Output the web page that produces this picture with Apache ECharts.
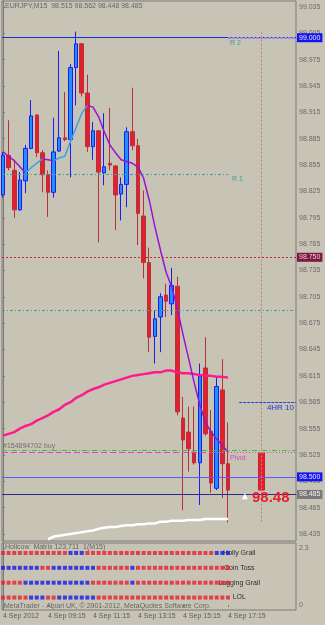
<!DOCTYPE html>
<html><head><meta charset="utf-8">
<script src="https://cdn.jsdelivr.net/npm/echarts@6/dist/echarts.min.js"></script>
<style>html,body{margin:0;padding:0;background:#c7c4b5;}#c{width:325px;height:625px;}</style>
</head><body><div id="c"></div>
<script>
// ---------- data ----------
const chartTitle = 'EURJPY,M15  98.515 98.562 98.448 98.485';
const subTitle = 'Hollcow  Matrix 123,711  1(M15)';
const copyright = 'MetaTrader - Alpari UK, \u00A9 2001-2012, MetaQuotes Software Corp.';
const timeLabels = ['4 Sep 2012', '4 Sep 09:15', '4 Sep 11:15', '4 Sep 13:15', '4 Sep 15:15', '4 Sep 17:15'];
const timeLabelIdx = [0, 8, 16, 24, 32, 40];
const priceTicks = [99.035, 99.005, 98.975, 98.945, 98.915, 98.885, 98.855, 98.825, 98.795, 98.765, 98.735, 98.705, 98.675, 98.645, 98.615, 98.585, 98.555, 98.525, 98.495, 98.465, 98.435];

const opens  = [98.821,98.866,98.849,98.804,98.837,98.874,98.912,98.869,98.844,98.824,98.871,98.886,98.884,98.966,98.993,98.937,98.876,98.894,98.846,98.857,98.854,98.822,98.833,98.893,98.877,98.797,98.744,98.660,98.682,98.707,98.697,98.717,98.567,98.551,98.528,98.516,98.624,98.552,98.487,98.599,98.515];
const closes = [98.866,98.852,98.804,98.838,98.874,98.911,98.869,98.844,98.824,98.870,98.886,98.884,98.966,98.993,98.937,98.876,98.894,98.847,98.853,98.855,98.821,98.833,98.893,98.877,98.800,98.744,98.659,98.680,98.705,98.700,98.718,98.574,98.542,98.532,98.516,98.615,98.549,98.493,98.603,98.515,98.485];
const lows   = [98.818,98.849,98.795,98.803,98.823,98.873,98.864,98.824,98.796,98.818,98.870,98.882,98.841,98.923,98.933,98.870,98.861,98.767,98.832,98.849,98.781,98.792,98.807,98.872,98.764,98.726,98.642,98.629,98.642,98.682,98.684,98.570,98.462,98.506,98.514,98.468,98.547,98.482,98.485,98.476,98.448];
const highs  = [98.870,98.906,98.861,98.847,98.878,98.929,98.913,98.872,98.849,98.909,98.985,98.938,98.970,99.007,98.994,98.958,98.904,98.895,98.914,98.920,98.855,98.841,98.898,98.943,98.885,98.826,98.761,98.689,98.709,98.720,98.738,98.728,98.591,98.580,98.580,98.629,98.659,98.576,98.614,98.634,98.562];

const maFast = [98.870,98.865,98.860,98.853,98.846,98.852,98.857,98.862,98.861,98.860,98.863,98.865,98.882,98.898,98.914,98.923,98.921,98.910,98.893,98.878,98.869,98.861,98.859,98.857,98.853,98.840,98.815,98.785,98.758,98.733,98.716,98.692,98.662,98.635,98.607,98.582,98.562,98.551,98.543,98.536,98.528];
const maSlow = [98.547,98.549,98.551,98.555,98.558,98.560,98.564,98.567,98.570,98.574,98.577,98.582,98.585,98.590,98.593,98.597,98.600,98.602,98.605,98.607,98.609,98.611,98.613,98.615,98.616,98.617,98.618,98.619,98.619,98.621,98.621,98.619,98.618,98.618,98.617,98.616,98.615,98.615,98.614,98.614,98.613];
const maLongStart = 8;
const maLong = [98.429,98.432,98.433,98.434,98.435,98.436,98.437,98.438,98.439,98.441,98.442,98.443,98.443,98.444,98.445,98.445,98.446,98.446,98.447,98.447,98.449,98.449,98.450,98.450,98.450,98.451,98.451,98.451,98.452,98.452,98.452,98.452,98.452];

// daily candle shown to the right
const dayIdx = 46;
const dayOpen = 98.527, dayHigh = 99.007, dayLow = 98.447, dayClose = 98.485;

// levels
const levelR2 = 99.000, levelR1 = 98.845, levelRed = 98.750, levelTeal = 98.685;
const level4hr = 98.585, levelOrder = 98.531, levelPivot = 98.528, levelBlue = 98.500, levelBid = 98.485;

// matrix sub-window (1 = blue, 0 = red)
const matrixNames = ['Holly Grail', 'Coin Toss', 'Lagging Grail', 'LOL'];
const matrixLevels = [2.1, 1.5, 0.9, 0.3];
const matrixHolly   = [0,0,0,0,0,0,0,0,0,0,0,0,1,1,1,0,0,0,0,0,0,0,0,0,0,0,0,0,0,0,0,0,0,0,0,0,0,0,1,1,1];
const matrixCoin    = [1,1,1,1,1,1,1,0,0,1,1,1,1,1,1,1,1,0,0,0,0,0,0,1,0,0,0,0,0,0,0,0,0,0,0,0,0,0,0,0,0];
const matrixLagging = [0,0,0,0,1,1,1,1,1,1,1,1,1,1,1,1,0,0,0,0,0,0,0,1,0,0,0,0,0,0,0,0,0,0,0,0,0,0,0,0,0];
const matrixLol     = [0,0,0,0,0,1,1,1,0,0,1,1,1,1,1,1,1,0,0,0,0,0,0,0,0,0,0,0,0,0,0,0,0,0,0,0,0,0,0,0,0];
const subTicks = [2.3, 0];

// ---------- build ----------
const F = 'Liberation Sans, Arial, sans-serif';
const xMin = -0.178, xMax = 52.09;
const candleData = opens.map((o, i) => [i, o, closes[i], lows[i], highs[i]]);
const fastUp = maFast.map((v, i) => [i, '-']);
const fastDn = maFast.map((v, i) => [i, '-']);
for (let i = 0; i < maFast.length - 1; i++) {
  const tgt = maFast[i + 1] >= maFast[i] ? fastUp : fastDn;
  tgt[i] = [i, maFast[i]]; tgt[i + 1] = [i + 1, maFast[i + 1]];
}
const slowData = maSlow.map((v, i) => [i, v]);
const longData = maLong.map((v, i) => [i + maLongStart, v]);
const matrixRows = [matrixHolly, matrixCoin, matrixLagging, matrixLol];

const boxLabel = (txt, bg, fg) => ({show: true, position: 'end', distance: 1, formatter: txt, color: fg, backgroundColor: bg,
  padding: [1, 2, 0, 2], fontSize: 7, lineHeight: 8, fontFamily: F});
const noLabel = {show: false};
const txtLabel = (txt, pos, color, size) => ({show: true, position: pos, formatter: txt, color: color, fontSize: size || 7, fontFamily: F, distance: 2});

const levelLines = [
  {yAxis: levelR2, lineStyle: {color: '#1f2fd0', width: 1, type: 'solid'}, label: boxLabel('99.000', '#1414f0', '#e8e8ff')},
  [{coord: [40, levelR2], lineStyle: {color: '#9a86e6', width: 2, type: [3, 1]}, label: txtLabel('R 2', 'insideStartBottom', '#3d9a98')}, {coord: [xMax, levelR2]}],
  [{coord: [xMin, levelR1], lineStyle: {color: '#38a0a0', width: 1, type: [3, 2, 1, 2]}, label: {show: true, position: 'end', formatter: 'R 1', color: '#3d9a98', fontSize: 7, fontFamily: F, distance: 4, offset: [0, 5]}}, {coord: [40, levelR1]}],
  {yAxis: levelRed, lineStyle: {color: '#b83030', width: 1, type: [2, 2]}, label: boxLabel('98.750', '#7c1a44', '#f0c8d8')},
  {yAxis: levelTeal, lineStyle: {color: '#38a0a0', width: 1, type: [3, 2, 1, 2]}, label: noLabel},
  [{coord: [42, level4hr], lineStyle: {color: '#2a3cc8', width: 1, type: [3, 1]}, label: txtLabel('4HR 10', 'insideEndBottom', '#2a3cc8', 8)}, {coord: [xMax, level4hr]}],
  {yAxis: levelOrder, lineStyle: {color: '#3cc03c', width: 1, type: [5, 2, 1, 2]}, label: {show: true, position: 'insideStartTop', formatter: '#154894702 buy', color: '#707070', fontSize: 7, fontFamily: F, distance: 1}},
  [{coord: [xMin, levelPivot], lineStyle: {color: '#e040d0', width: 1, type: [6, 3]}, label: noLabel}, {coord: [40, levelPivot]}],
  [{coord: [40, levelPivot], lineStyle: {color: '#e040d0', width: 1, type: [1, 2]}, label: txtLabel('Pivot', 'insideStartBottom', '#e040d0')}, {coord: [xMax, levelPivot]}],
  {yAxis: levelBlue, lineStyle: {color: '#5a5aff', width: 1, type: 'solid'}, label: boxLabel('98.500', '#1414f0', '#e8e8ff')},
  {yAxis: levelBid, lineStyle: {color: '#2a2a88', width: 1, type: 'solid'}, label: boxLabel('98.485', '#787878', '#f0f0f0')},
  [{coord: [dayIdx, dayHigh], lineStyle: {color: '#d27878', width: 1, type: [2, 2]}, label: noLabel}, {coord: [dayIdx, dayLow]}]
];

const matrixSeries = matrixRows.map((row, r) => ({
  type: 'scatter', xAxisIndex: 1, yAxisIndex: 1, symbol: 'rect', symbolSize: 4, z: 5, silent: true,
  data: row.map((s, i) => ({value: [i, matrixLevels[r]], itemStyle: {color: s ? '#1818e8' : '#e8202e'}}))
}));

const option = {
  backgroundColor: '#c7c4b5',
  animation: false,
  title: [
    {text: chartTitle, left: 5, top: 3, padding: 0, textStyle: {fontSize: 7, fontWeight: 'normal', color: '#666', fontFamily: F}},
    {text: subTitle, left: 5, top: 544, padding: 0, textStyle: {fontSize: 7, fontWeight: 'normal', color: '#666', fontFamily: F}},
    {text: copyright, left: 4, top: 603, padding: 0, textStyle: {fontSize: 7, fontWeight: 'normal', color: '#666', fontFamily: F}}
  ],
  grid: [
    {left: 2, top: 1, width: 294, height: 540, show: true, borderColor: '#7a7a7a', borderWidth: 1, backgroundColor: 'transparent'},
    {left: 2, top: 543, width: 294, height: 67, show: true, borderColor: '#7a7a7a', borderWidth: 1, backgroundColor: 'transparent'}
  ],
  xAxis: [
    {type: 'value', gridIndex: 0, min: xMin, max: xMax, show: false, splitLine: {show: false}},
    {type: 'value', gridIndex: 1, min: xMin, max: xMax, splitLine: {show: false},
     axisLine: {show: false},
     axisTick: {show: true, customValues: timeLabelIdx, length: 2, lineStyle: {color: '#777'}},
     axisLabel: {customValues: timeLabelIdx, align: 'left', margin: 3, fontSize: 7, color: '#5a5a5a', fontFamily: F,
       formatter: v => timeLabels[timeLabelIdx.indexOf(Math.round(v))] || ''}}
  ],
  yAxis: [
    {type: 'value', gridIndex: 0, position: 'right', min: 98.427, max: 99.0418, splitLine: {show: false},
     axisLine: {show: true, lineStyle: {color: '#7a7a7a'}},
     axisTick: {show: true, customValues: priceTicks, length: 2, lineStyle: {color: '#777'}},
     axisLabel: {customValues: priceTicks, margin: 3, fontSize: 7, color: '#6a6a6a', fontFamily: F, formatter: v => v.toFixed(3)}},
    {type: 'value', gridIndex: 1, position: 'right', min: -0.202, max: 2.502, splitLine: {show: false},
     axisLine: {show: true, lineStyle: {color: '#7a7a7a'}},
     axisTick: {show: true, customValues: subTicks, length: 2, lineStyle: {color: '#777'}},
     axisLabel: {customValues: subTicks, margin: 3, fontSize: 7, color: '#6a6a6a', fontFamily: F, formatter: v => String(v)}}
  ],
  series: [
    {type: 'candlestick', xAxisIndex: 0, yAxisIndex: 0, data: candleData, barWidth: 4, z: 2, silent: true,
     itemStyle: {color: '#1e90ff', color0: '#e4202c', borderColor: '#1c1cf0', borderColor0: '#b8303a', borderWidth: 1}},
    {type: 'candlestick', xAxisIndex: 0, yAxisIndex: 0, barWidth: 6, z: 2, silent: true,
     data: [[dayIdx, dayOpen, dayClose, Math.min(dayOpen, dayClose), Math.max(dayOpen, dayClose)]],
     itemStyle: {color: '#e4202c', color0: '#e4202c', borderColor: '#d02030', borderColor0: '#d02030', borderWidth: 1}},
    {type: 'line', xAxisIndex: 0, yAxisIndex: 0, data: slowData, showSymbol: false, z: 4, silent: true,
     lineStyle: {color: '#ff1a8c', width: 2.5},
     markLine: {symbol: ['none', 'none'], silent: true, animation: false, data: levelLines},
     markPoint: {silent: true, animation: false, data: [
       {coord: [47.6, 98.476], symbol: 'circle', symbolSize: 0, label: {show: true, position: 'inside', formatter: '98.48', color: '#e8202e', fontSize: 15, fontWeight: 'bold', fontFamily: F}},
       {coord: [43, 98.478], symbol: 'triangle', symbolSize: [6, 6], itemStyle: {color: '#ffffff'}, label: {show: false}}
     ]}},
    {type: 'line', xAxisIndex: 0, yAxisIndex: 0, data: longData, showSymbol: false, z: 4, silent: true,
     lineStyle: {color: '#ffffff', width: 2.5}},
    {type: 'line', xAxisIndex: 0, yAxisIndex: 0, data: fastDn, showSymbol: false, z: 4, silent: true, connectNulls: false,
     lineStyle: {color: '#9a12d2', width: 1.5}},
    {type: 'line', xAxisIndex: 0, yAxisIndex: 0, data: fastUp, showSymbol: false, z: 4, silent: true, connectNulls: false,
     lineStyle: {color: '#2ea6e8', width: 1.5}},
    {type: 'scatter', xAxisIndex: 1, yAxisIndex: 1, symbolSize: 0, z: 1, silent: true,
     data: matrixNames.map((n, r) => ({value: [42, matrixLevels[r]], name: n})),
     label: {show: true, position: 'inside', formatter: '{b}', color: '#000', fontSize: 7, fontFamily: F}},
    ...matrixSeries
  ]
};
const chart = echarts.init(document.getElementById('c'), null, {renderer: 'canvas', width: 325, height: 625});
chart.setOption(option);
</script>
</body></html>
